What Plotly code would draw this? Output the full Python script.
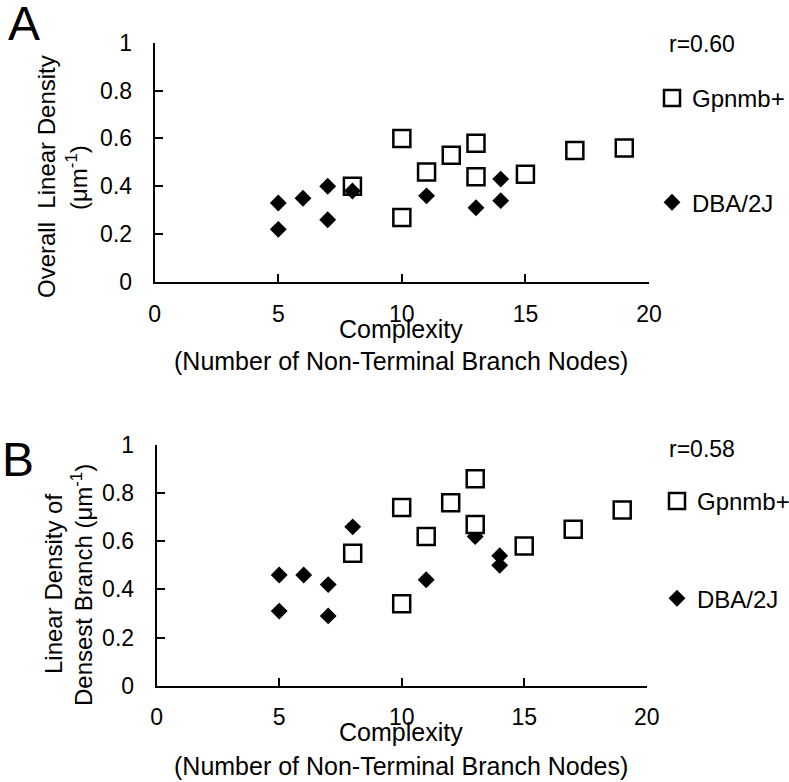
import plotly.graph_objects as go

W, H = 789, 782

# ---------------- data ----------------
# Panel A: Overall linear density
a_gp_x = [8, 10, 10, 11, 12, 13, 13, 15, 17, 19]
a_gp_y = [0.40, 0.60, 0.27, 0.46, 0.53, 0.58, 0.44, 0.45, 0.55, 0.56]
a_dba_x = [5, 5, 6, 7, 7, 8, 11, 13, 14, 14]
a_dba_y = [0.33, 0.22, 0.35, 0.40, 0.26, 0.38, 0.36, 0.31, 0.43, 0.34]

# Panel B: Linear density of densest branch
b_gp_x = [8, 10, 10, 11, 12, 13, 13, 15, 17, 19]
b_gp_y = [0.55, 0.74, 0.34, 0.62, 0.76, 0.86, 0.67, 0.58, 0.65, 0.73]
b_dba_x = [5, 5, 6, 7, 7, 8, 11, 13, 14, 14]
b_dba_y = [0.46, 0.31, 0.46, 0.42, 0.29, 0.66, 0.44, 0.62, 0.54, 0.50]

x_ticks = [0, 5, 10, 15, 20]
y_ticks = [0, 0.2, 0.4, 0.6, 0.8, 1]
y_tick_text = ["0", "0.2", "0.4", "0.6", "0.8", "1"]

FONT = "Arial, Liberation Sans, sans-serif"


def px(x):
    return x / W


def py(y):
    return 1 - y / H


sq_fill = dict(symbol="square", size=17, color="white", line=dict(width=2.5, color="black"))
dia = dict(symbol="diamond", size=13, color="black", line=dict(width=0))

fig = go.Figure()
# Panel A (diamonds drawn on top)
fig.add_trace(go.Scatter(x=a_gp_x, y=a_gp_y, mode="markers", name="Gpnmb+",
                         marker=sq_fill, xaxis="x", yaxis="y", legend="legend",
                         legendgroup="a1", legendrank=1))
fig.add_trace(go.Scatter(x=a_dba_x, y=a_dba_y, mode="markers", name="DBA/2J",
                         marker=dia, xaxis="x", yaxis="y", legend="legend",
                         legendgroup="a2", legendrank=2))
# Panel B (squares drawn on top)
fig.add_trace(go.Scatter(x=b_dba_x, y=b_dba_y, mode="markers", name="DBA/2J",
                         marker=dia, xaxis="x2", yaxis="y2", legend="legend2",
                         legendgroup="b2", legendrank=2))
fig.add_trace(go.Scatter(x=b_gp_x, y=b_gp_y, mode="markers", name="Gpnmb+",
                         marker=sq_fill, xaxis="x2", yaxis="y2", legend="legend2",
                         legendgroup="b1", legendrank=1))

common_x = dict(range=[0, 20], tickvals=x_ticks, ticks="inside", ticklen=8, tickwidth=2,
                tickcolor="black", showline=True, linecolor="black", linewidth=2,
                showgrid=False, zeroline=False, tickfont=dict(size=23, color="black", family=FONT),
                ticklabelstandoff=10, fixedrange=True, automargin=False)
common_y = dict(range=[0, 1], tickvals=y_ticks, ticktext=y_tick_text, ticks="inside", ticklen=8,
                tickwidth=2, tickcolor="black", showline=True, linecolor="black", linewidth=2,
                showgrid=False, zeroline=False, tickfont=dict(size=23, color="black", family=FONT),
                ticklabelstandoff=16, fixedrange=True, automargin=False)

legend_common = dict(font=dict(size=24, family=FONT, color="black"), bgcolor="rgba(0,0,0,0)",
                     borderwidth=0, xanchor="left", yanchor="top", itemsizing="trace")

fig.update_layout(
    width=W, height=H,
    margin=dict(l=0, r=0, t=0, b=0, autoexpand=False),
    paper_bgcolor="white", plot_bgcolor="white",
    font=dict(family=FONT, size=24, color="black"),
    showlegend=True,
    xaxis=dict(domain=[px(154.7), px(649)], anchor="y", **common_x),
    yaxis=dict(domain=[py(282), py(42.7)], anchor="x", **common_y),
    xaxis2=dict(domain=[px(156.7), px(646.7)], anchor="y2", **common_x),
    yaxis2=dict(domain=[py(685.7), py(445)], anchor="x2", **common_y),
    legend=dict(x=px(652), y=py(76), tracegroupgap=70, **legend_common),
    legend2=dict(x=px(657), y=py(479), tracegroupgap=63, **legend_common),
)

ann = []
# panel letters
ann.append(dict(text="A", x=px(24), y=py(24), font=dict(size=48)))
ann.append(dict(text="B", x=px(18), y=py(459), font=dict(size=48)))
# r values
ann.append(dict(text="r=0.60", x=px(667), y=py(44), xanchor="left", font=dict(size=23)))
ann.append(dict(text="r=0.58", x=px(667), y=py(449), xanchor="left", font=dict(size=23)))
# x titles
ann.append(dict(text="Complexity", x=px(401), y=py(329), font=dict(size=25)))
ann.append(dict(text="(Number of Non-Terminal Branch Nodes)", x=px(401), y=py(361), font=dict(size=25)))
ann.append(dict(text="Complexity", x=px(401), y=py(732), font=dict(size=25)))
ann.append(dict(text="(Number of Non-Terminal Branch Nodes)", x=px(401), y=py(766), font=dict(size=25)))
# y titles
ann.append(dict(text="Overall  Linear Density", x=px(46), y=py(177), textangle=-90))
ann.append(dict(text="(μm<sup>-1</sup>)", x=px(77), y=py(178), textangle=-90))
ann.append(dict(text="Linear Density of", x=px(53), y=py(584), textangle=-90))
ann.append(dict(text="Densest Branch (μm<sup>-1</sup>)", x=px(82), y=py(585), textangle=-90))

for a in ann:
    a.setdefault("xref", "paper")
    a.setdefault("yref", "paper")
    a.setdefault("showarrow", False)
    a.setdefault("xanchor", "center")
    a.setdefault("yanchor", "middle")
    f = dict(size=24, family=FONT, color="black")
    f.update(a.get("font", {}))
    a["font"] = f
fig.update_layout(annotations=ann)

fig.write_html(
    "out.html",
    config={"displayModeBar": False},
    post_script="document.body.style.margin='0px';document.body.style.overflow='hidden';",
)
